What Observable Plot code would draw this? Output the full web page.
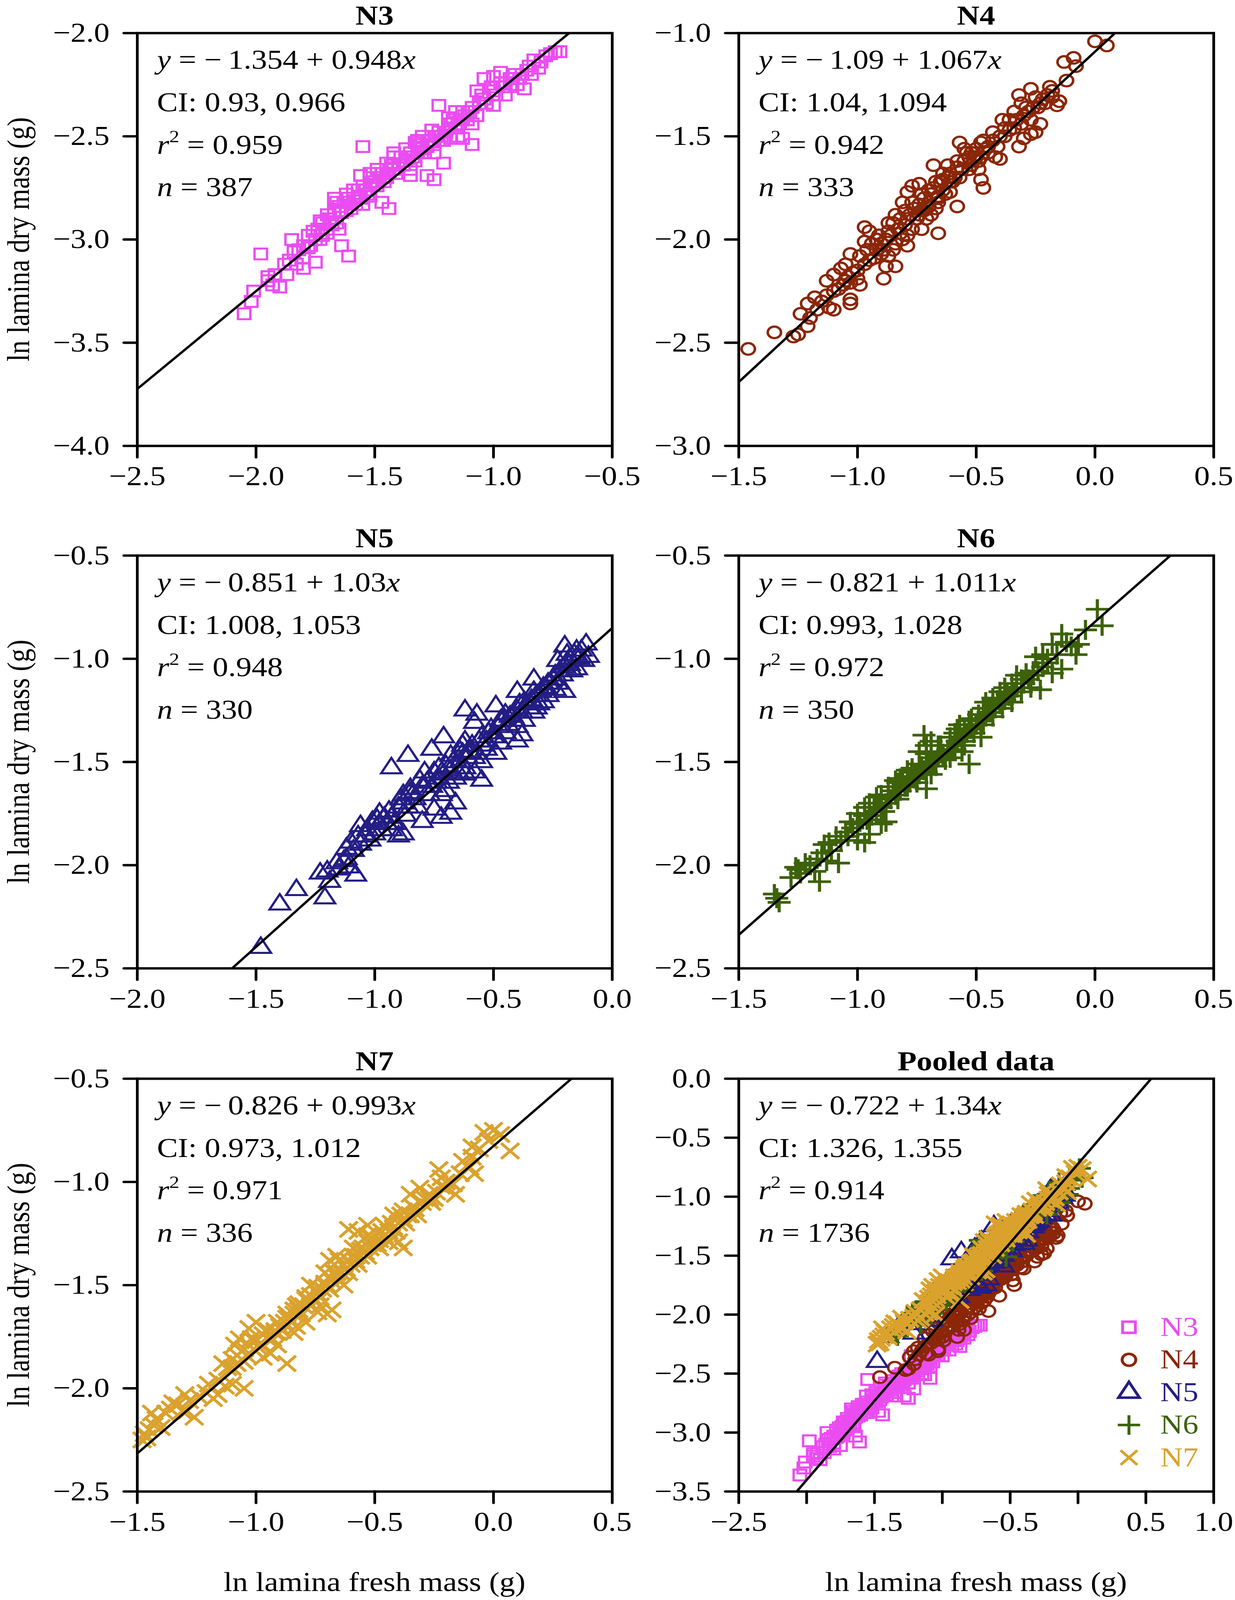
<!DOCTYPE html>
<html><head><meta charset="utf-8">
<script src="https://cdn.jsdelivr.net/npm/d3@7"></script>
<script src="https://cdn.jsdelivr.net/npm/@observablehq/plot@0.6"></script>
<style>
html,body{margin:0;padding:0;background:#fff;overflow:hidden;}
#wrap{position:relative;width:3162px;height:4713px;overflow:hidden;background:#fff;transform-origin:0 0;}
#wrap svg{position:absolute;}
</style></head><body><div id="wrap"></div>
<script>
const FONT = '"Liberation Serif","Times New Roman",serif';
const groups = ["N3","N4","N5","N6","N7"];
const colors = ["#EB4CF2","#8B2608","#231D85","#3D620A","#DAA22D"];
const symbols = ["square","circle","triangle","plus","times"];
const titles = ["N3","N4","N5","N6","N7","Pooled data"];
const intercepts = [-1.354,-1.09,-0.851,-0.821,-0.826,-0.722];
const slopes = ["0.948","1.067","1.03","1.011","0.993","1.34"];
const ciLow = ["0.93","1.04","1.008","0.993","0.973","1.326"];
const ciHigh = ["0.966","1.094","1.053","1.028","1.012","1.355"];
const r2 = ["0.959","0.942","0.948","0.972","0.971","0.914"];
const ns = ["387","333","330","350","336","1736"];
const xDomains = [[-2.5,-0.5],[-1.5,0.5],[-2,0],[-1.5,0.5],[-1.5,0.5],[-2.5,1]];
const yDomains = [[-4,-2],[-3,-1],[-2.5,-0.5],[-2.5,-0.5],[-2.5,-0.5],[-3.5,0]];
const xTicks = [
  [-2.5,-2,-1.5,-1,-0.5],[-1.5,-1,-0.5,0,0.5],[-2,-1.5,-1,-0.5,0],
  [-1.5,-1,-0.5,0,0.5],[-1.5,-1,-0.5,0,0.5],[-2.5,-2,-1.5,-1,-0.5,0,0.5,1]];
const yTicks = [
  [-4,-3.5,-3,-2.5,-2],[-3,-2.5,-2,-1.5,-1],[-2.5,-2,-1.5,-1,-0.5],
  [-2.5,-2,-1.5,-1,-0.5],[-2.5,-2,-1.5,-1,-0.5],[-3.5,-3,-2.5,-2,-1.5,-1,-0.5,0]];
const pooledXTickLabels = [-2.5,-1.5,-0.5,0.5,1];
const xTitle = "ln lamina fresh mass (g)";
const yTitle = "ln lamina dry mass (g)";

const n3 = [
[-2.05,-3.36],[-2.02,-3.30],[-2.01,-3.25],[-1.98,-3.07],[-1.95,-3.18],[-1.93,-3.22],[-1.90,-3.23],[-1.87,-3.17],[-1.83,-3.12],[-1.85,-3.00],
[-1.80,-3.09],[-1.77,-3.03],[-1.73,-3.00],[-1.70,-2.97],[-1.80,-3.14],[-1.75,-3.11],[-1.73,-2.91],[-1.70,-2.88],[-1.66,-2.82],[-1.67,-2.80],
[-1.61,-2.82],[-1.57,-2.79],[-1.64,-3.03],[-1.61,-3.08],[-1.59,-2.76],[-1.56,-2.69],[-1.52,-2.68],[-1.49,-2.66],[-1.45,-2.63],[-1.55,-2.55],
[-1.52,-2.79],[-1.47,-2.82],[-1.44,-2.85],[-1.42,-2.60],[-1.37,-2.56],[-1.33,-2.53],[-1.30,-2.50],[-1.26,-2.47],[-1.35,-2.69],[-1.28,-2.69],
[-1.25,-2.71],[-1.21,-2.63],[-1.23,-2.35],[-1.19,-2.41],[-1.16,-2.38],[-1.18,-2.51],[-1.13,-2.51],[-1.09,-2.54],[-1.13,-2.42],[-1.09,-2.44],
[-1.07,-2.28],[-1.04,-2.22],[-1.00,-2.21],[-0.97,-2.19],[-0.93,-2.22],[-1.00,-2.35],[-0.95,-2.30],[-0.90,-2.25],[-0.87,-2.27],[-0.85,-2.16],
[-0.83,-2.13],[-0.78,-2.11],[-0.74,-2.09],[-0.72,-2.09],[-0.81,-2.17],
[-1.78,-3.04],[-1.75,-3.00],[-1.72,-2.98],[-1.70,-2.95],[-1.68,-2.93],[-1.66,-2.92],[-1.64,-2.87],[-1.62,-2.86],[-1.60,-2.85],[-1.58,-2.83],
[-1.56,-2.80],[-1.54,-2.76],[-1.52,-2.74],[-1.50,-2.72],[-1.48,-2.70],[-1.46,-2.72],[-1.44,-2.68],[-1.42,-2.66],[-1.40,-2.64],[-1.38,-2.64],
[-1.36,-2.60],[-1.34,-2.60],[-1.32,-2.58],[-1.30,-2.56],[-1.28,-2.55],[-1.26,-2.52],[-1.24,-2.50],[-1.22,-2.50],[-1.20,-2.48],[-1.18,-2.44],
[-1.16,-2.46],[-1.14,-2.42],[-1.12,-2.40],[-1.10,-2.38],[-1.06,-2.34],[-1.04,-2.32],[-1.00,-2.28],[-0.96,-2.26],[-0.92,-2.22],[-0.88,-2.20],
[-1.65,-2.95],[-1.55,-2.83],[-1.45,-2.66],[-1.35,-2.66],[-1.25,-2.58],[-1.15,-2.50],[-1.62,-2.78],[-1.52,-2.70],[-1.42,-2.58],[-1.32,-2.52],
[-1.95,-3.20],[-1.92,-3.17],[-1.88,-3.12],[-1.86,-3.10],[-1.84,-3.06],[-1.82,-3.05],[-1.80,-3.03],[-1.78,-2.98],[-1.76,-2.96],[-1.74,-2.95],
[-1.72,-2.92],[-1.69,-2.90],[-1.67,-2.86],[-1.65,-2.84],[-1.63,-2.82],[-1.61,-2.80],[-1.59,-2.80],[-1.57,-2.76],[-1.55,-2.74],[-1.53,-2.78],
[-1.51,-2.72],[-1.49,-2.74],[-1.47,-2.68],[-1.45,-2.70],[-1.43,-2.64],[-1.41,-2.68],[-1.39,-2.60],[-1.37,-2.62],[-1.35,-2.58],[-1.33,-2.62],
[-1.31,-2.54],[-1.29,-2.58],[-1.27,-2.52],[-1.25,-2.54],[-1.23,-2.48],[-1.21,-2.52],[-1.19,-2.46],[-1.17,-2.42],[-1.15,-2.44],[-1.13,-2.38],
[-1.11,-2.42],[-1.09,-2.36],[-1.07,-2.40],[-1.05,-2.30],[-1.03,-2.34],[-1.01,-2.26],[-0.99,-2.30],[-0.97,-2.24],[-0.95,-2.24],[-0.93,-2.26],
[-0.91,-2.20],[-0.89,-2.22],[-0.86,-2.18],[-0.84,-2.20],[-0.80,-2.14],[-0.76,-2.10]];

const n4 = [
[-1.46,-2.53],[-1.35,-2.45],[-1.27,-2.47],[-1.25,-2.46],[-1.21,-2.42],[-1.24,-2.36],[-1.21,-2.31],[-1.18,-2.28],[-1.13,-2.20],[-1.10,-2.17],
[-1.12,-2.33],[-1.10,-2.34],[-1.03,-2.31],[-1.03,-2.29],[-1.03,-2.21],[-1.07,-2.14],[-1.03,-2.07],[-1.05,-2.12],[-0.99,-2.22],[-1.00,-2.19],
[-0.97,-1.94],[-0.95,-1.96],[-0.97,-2.01],[-0.92,-2.00],[-0.90,-2.07],[-0.88,-2.13],[-0.89,-2.19],[-0.84,-2.13],[-0.87,-1.92],[-0.84,-1.88],
[-0.81,-1.82],[-0.79,-1.77],[-0.77,-1.74],[-0.74,-1.73],[-0.81,-2.00],[-0.79,-2.03],[-0.74,-1.83],[-0.70,-1.82],[-0.68,-1.64],[-0.66,-1.79],
[-0.66,-1.97],[-0.62,-1.64],[-0.61,-1.68],[-0.58,-1.84],[-0.61,-1.77],[-0.64,-1.71],[-0.57,-1.53],[-0.55,-1.56],[-0.53,-1.60],[-0.51,-1.61],
[-0.49,-1.66],[-0.48,-1.53],[-0.46,-1.56],[-0.47,-1.75],[-0.48,-1.71],[-0.42,-1.60],[-0.40,-1.61],[-0.39,-1.42],[-0.38,-1.46],[-0.34,-1.38],
[-0.32,-1.30],[-0.31,-1.34],[-0.32,-1.55],[-0.27,-1.49],[-0.25,-1.48],[-0.30,-1.51],[-0.27,-1.27],[-0.25,-1.31],[-0.23,-1.34],[-0.23,-1.44],
[-0.20,-1.30],[-0.18,-1.31],[-0.15,-1.33],[-0.16,-1.35],[-0.12,-1.23],[-0.13,-1.14],[-0.09,-1.12],[-0.08,-1.16],[0.00,-1.04],[0.05,-1.06],
[-0.95,-2.10],[-0.92,-2.05],[-0.90,-2.02],[-0.88,-2.00],[-0.86,-1.98],[-0.85,-2.05],[-0.83,-1.95],[-0.82,-1.90],[-0.80,-1.93],[-0.78,-1.88],
[-0.77,-1.95],[-0.76,-1.85],[-0.74,-1.88],[-0.72,-1.80],[-0.71,-1.90],[-0.70,-1.84],[-0.69,-1.78],[-0.68,-1.75],[-0.66,-1.80],[-0.65,-1.72],
[-0.64,-1.76],[-0.62,-1.70],[-0.60,-1.72],[-0.58,-1.65],[-0.57,-1.70],[-0.55,-1.62],[-0.53,-1.66],[-0.52,-1.58],[-0.50,-1.60],[-0.48,-1.60],
[-0.45,-1.55],[-0.43,-1.52],[-0.40,-1.50],[-0.36,-1.47],[-0.33,-1.42],[-0.30,-1.40],[-0.28,-1.38],[-0.26,-1.36],[-0.22,-1.32],[-0.18,-1.28],
[-1.05,-2.20],[-1.00,-2.15],[-0.97,-2.12],[-1.10,-2.25],[-0.87,-2.08],[-0.79,-1.98],[-0.73,-1.95],[-0.67,-1.85],
[-1.20,-2.38],[-1.17,-2.34],[-1.15,-2.30],[-1.13,-2.27],[-1.08,-2.24],[-1.06,-2.22],[-1.04,-2.18],[-1.02,-2.16],[-0.99,-2.08],[-0.96,-2.05],
[-0.94,-2.02],[-0.93,-2.09],[-0.91,-1.98],[-0.89,-2.05],[-0.87,-1.96],[-0.85,-1.92],[-0.84,-2.02],[-0.82,-1.97],[-0.80,-1.86],[-0.79,-1.90],
[-0.77,-1.82],[-0.75,-1.90],[-0.73,-1.78],[-0.72,-1.86],[-0.70,-1.76],[-0.69,-1.88],[-0.67,-1.72],[-0.66,-1.82],[-0.64,-1.68],[-0.63,-1.78],
[-0.61,-1.72],[-0.59,-1.70],[-0.58,-1.62],[-0.56,-1.66],[-0.54,-1.58],[-0.52,-1.64],[-0.50,-1.56],[-0.49,-1.62],[-0.47,-1.52],[-0.45,-1.58],
[-0.43,-1.48],[-0.41,-1.55],[-0.38,-1.50],[-0.36,-1.42],[-0.34,-1.46],[-0.31,-1.44],[-0.29,-1.36],[-0.27,-1.42],[-0.24,-1.36],[-0.21,-1.34],
[-0.19,-1.26]];

const n5 = [
[-1.48,-2.40],[-1.40,-2.19],[-1.33,-2.12],[-1.23,-2.04],[-1.20,-2.03],[-1.19,-2.08],[-1.21,-2.16],[-1.16,-1.99],[-1.12,-1.97],[-1.08,-2.05],
[-1.11,-2.01],[-1.12,-1.92],[-1.10,-1.89],[-1.06,-1.81],[-1.04,-1.86],[-1.07,-1.86],[-1.01,-1.79],[-0.98,-1.75],[-0.96,-1.77],[-0.93,-1.83],
[-0.90,-1.86],[-0.88,-1.85],[-0.93,-1.53],[-0.86,-1.47],[-0.88,-1.66],[-0.85,-1.63],[-0.81,-1.59],[-0.79,-1.55],[-0.80,-1.79],[-0.75,-1.73],
[-0.72,-1.77],[-0.68,-1.75],[-0.66,-1.70],[-0.76,-1.44],[-0.71,-1.38],[-0.73,-1.53],[-0.68,-1.47],[-0.64,-1.45],[-0.62,-1.40],[-0.62,-1.25],
[-0.58,-1.31],[-0.57,-1.27],[-0.62,-1.53],[-0.58,-1.55],[-0.55,-1.59],[-0.53,-1.40],[-0.49,-1.23],[-0.45,-1.27],[-0.49,-1.46],[-0.40,-1.16],
[-0.37,-1.21],[-0.38,-1.37],[-0.40,-1.40],[-0.33,-1.10],[-0.32,-1.24],[-0.29,-1.21],[-0.27,-1.12],[-0.24,-1.15],[-0.23,-1.01],[-0.20,-0.94],
[-0.19,-0.98],[-0.18,-1.03],[-0.15,-1.05],[-0.11,-0.93],[-0.10,-0.99],[-0.20,-1.16],[-0.12,-1.01],[-0.15,-0.96],
[-1.00,-1.85],[-0.98,-1.80],[-0.95,-1.80],[-0.93,-1.77],[-0.90,-1.72],[-0.88,-1.70],[-0.86,-1.72],[-0.85,-1.65],[-0.83,-1.68],[-0.80,-1.62],
[-0.78,-1.60],[-0.77,-1.66],[-0.75,-1.55],[-0.73,-1.58],[-0.70,-1.52],[-0.69,-1.60],[-0.67,-1.50],[-0.65,-1.55],[-0.63,-1.46],[-0.60,-1.45],
[-0.58,-1.48],[-0.56,-1.40],[-0.54,-1.42],[-0.52,-1.36],[-0.50,-1.38],[-0.48,-1.33],[-0.46,-1.30],[-0.44,-1.32],[-0.42,-1.28],[-0.40,-1.25],
[-0.38,-1.26],[-0.36,-1.22],[-0.34,-1.20],[-0.32,-1.18],[-0.30,-1.16],[-0.28,-1.14],[-0.26,-1.12],[-0.24,-1.08],[-0.22,-1.06],[-0.20,-1.04],
[-0.18,-1.00],[-0.16,-0.98],[-0.62,-1.56],[-0.55,-1.50],[-0.47,-1.41],[-0.40,-1.33],[-0.33,-1.26],[-0.72,-1.66],
[-1.15,-2.02],[-1.13,-1.98],[-1.09,-1.93],[-1.06,-1.90],[-1.03,-1.83],[-1.02,-1.88],[-0.99,-1.78],[-0.97,-1.83],[-0.94,-1.74],[-0.92,-1.80],
[-0.89,-1.68],[-0.87,-1.76],[-0.84,-1.66],[-0.82,-1.72],[-0.79,-1.62],[-0.76,-1.62],[-0.74,-1.60],[-0.71,-1.56],[-0.70,-1.64],[-0.68,-1.54],
[-0.66,-1.58],[-0.64,-1.50],[-0.63,-1.42],[-0.61,-1.48],[-0.59,-1.42],[-0.57,-1.46],[-0.55,-1.38],[-0.53,-1.44],[-0.51,-1.34],[-0.49,-1.38],
[-0.47,-1.30],[-0.45,-1.36],[-0.43,-1.28],[-0.41,-1.30],[-0.39,-1.22],[-0.37,-1.30],[-0.35,-1.24],[-0.33,-1.16],[-0.31,-1.22],[-0.29,-1.14],
[-0.27,-1.18],[-0.25,-1.10],[-0.23,-1.12],[-0.21,-1.08],[-0.19,-1.02],[-0.17,-1.06],[-0.14,-1.00],[-0.13,-0.96]];

const n6 = [
[-1.34,-2.16],[-1.35,-2.14],[-1.33,-2.18],[-1.26,-2.01],[-1.22,-1.99],[-1.24,-2.04],[-1.18,-2.03],[-1.16,-2.08],[-1.13,-1.98],[-1.08,-1.99],
[-1.14,-1.90],[-1.12,-1.89],[-1.09,-1.86],[-1.05,-1.84],[-1.00,-1.88],[-0.97,-1.89],[-0.95,-1.85],[-1.03,-1.79],[-1.00,-1.75],[-0.97,-1.72],
[-0.95,-1.70],[-0.92,-1.67],[-0.90,-1.80],[-0.88,-1.79],[-0.90,-1.66],[-0.87,-1.62],[-0.84,-1.59],[-0.82,-1.58],[-0.79,-1.54],[-0.77,-1.53],
[-0.74,-1.51],[-0.71,-1.63],[-0.74,-1.45],[-0.71,-1.42],[-0.69,-1.40],[-0.72,-1.37],[-0.66,-1.42],[-0.64,-1.47],[-0.61,-1.38],[-0.58,-1.34],
[-0.57,-1.32],[-0.55,-1.34],[-0.53,-1.51],[-0.56,-1.45],[-0.52,-1.29],[-0.49,-1.27],[-0.47,-1.24],[-0.48,-1.38],[-0.46,-1.21],[-0.43,-1.19],
[-0.40,-1.16],[-0.38,-1.14],[-0.35,-1.12],[-0.39,-1.24],[-0.35,-1.21],[-0.31,-1.16],[-0.27,-1.14],[-0.23,-1.15],[-0.33,-1.08],[-0.29,-1.07],
[-0.26,-1.06],[-0.25,-0.99],[-0.22,-0.98],[-0.20,-1.02],[-0.18,-1.07],[-0.14,-1.05],[-0.18,-0.93],[-0.14,-0.88],[-0.10,-0.94],[-0.08,-0.98],
[-0.07,-0.93],[-0.04,-0.86],[0.01,-0.76],[0.03,-0.84],
[-1.00,-1.80],[-0.96,-1.78],[-0.94,-1.76],[-0.92,-1.74],[-0.90,-1.72],[-0.88,-1.70],[-0.86,-1.68],[-0.84,-1.66],[-0.82,-1.64],[-0.80,-1.62],
[-0.78,-1.60],[-0.76,-1.58],[-0.74,-1.56],[-0.72,-1.54],[-0.70,-1.52],[-0.68,-1.50],[-0.66,-1.47],[-0.64,-1.46],[-0.62,-1.44],[-0.60,-1.42],
[-0.58,-1.40],[-0.56,-1.38],[-0.54,-1.36],[-0.52,-1.34],[-0.50,-1.32],[-0.48,-1.30],[-0.46,-1.28],[-0.44,-1.26],[-0.42,-1.24],[-0.40,-1.22],
[-0.38,-1.20],[-0.36,-1.18],[-0.34,-1.16],[-0.30,-1.12],[-0.26,-1.08],[-0.22,-1.04],[-0.71,-1.46],[-0.65,-1.42],[-0.59,-1.36],[-0.53,-1.30],
[-0.47,-1.24],[-0.77,-1.55],[-0.83,-1.60],[-0.69,-1.56],[-0.61,-1.48],[-0.55,-1.42],
[-1.28,-2.06],[-1.25,-2.02],[-1.20,-2.00],[-1.17,-1.97],[-1.15,-1.94],[-1.11,-1.93],[-1.07,-1.88],[-1.04,-1.86],[-1.02,-1.82],[-0.99,-1.79],
[-0.97,-1.76],[-0.95,-1.78],[-0.93,-1.72],[-0.91,-1.70],[-0.89,-1.74],[-0.87,-1.67],[-0.85,-1.64],[-0.83,-1.68],[-0.81,-1.60],[-0.79,-1.62],
[-0.77,-1.57],[-0.75,-1.60],[-0.73,-1.52],[-0.71,-1.55],[-0.69,-1.48],[-0.67,-1.52],[-0.65,-1.45],[-0.63,-1.49],[-0.61,-1.42],[-0.59,-1.44],
[-0.57,-1.38],[-0.55,-1.40],[-0.53,-1.34],[-0.51,-1.36],[-0.49,-1.30],[-0.47,-1.32],[-0.45,-1.26],[-0.43,-1.28],[-0.41,-1.20],[-0.39,-1.22],
[-0.37,-1.17],[-0.33,-1.14],[-0.31,-1.10],[-0.28,-1.10],[-0.24,-1.06],[-0.20,-1.00],[-0.16,-0.98],[-0.12,-0.92]];

const n7 = [
[-1.48,-2.25],[-1.46,-2.24],[-1.47,-2.22],[-1.44,-2.12],[-1.42,-2.15],[-1.40,-2.19],[-1.43,-2.18],[-1.35,-2.07],[-1.33,-2.08],[-1.30,-2.03],
[-1.29,-2.11],[-1.26,-2.14],[-1.31,-2.11],[-1.21,-2.02],[-1.18,-2.05],[-1.16,-2.03],[-1.13,-1.99],[-1.10,-1.98],[-1.05,-2.00],[-1.14,-1.88],
[-1.10,-1.86],[-1.08,-1.84],[-1.05,-1.81],[-1.03,-1.79],[-1.00,-1.77],[-1.09,-1.79],[-1.07,-1.76],[-1.03,-1.71],[-1.00,-1.68],[-0.96,-1.72],
[-0.97,-1.85],[-0.94,-1.83],[-0.87,-1.88],[-0.91,-1.79],[-0.92,-1.73],[-0.87,-1.64],[-0.84,-1.62],[-0.82,-1.59],[-0.79,-1.57],[-0.77,-1.55],
[-0.84,-1.73],[-0.79,-1.68],[-0.74,-1.63],[-0.70,-1.64],[-0.68,-1.62],[-0.74,-1.51],[-0.71,-1.49],[-0.69,-1.46],[-0.66,-1.44],[-0.69,-1.38],
[-0.66,-1.36],[-0.61,-1.38],[-0.58,-1.36],[-0.56,-1.33],[-0.53,-1.29],[-0.51,-1.27],[-0.61,-1.23],[-0.57,-1.24],[-0.53,-1.21],[-0.48,-1.32],
[-0.44,-1.29],[-0.40,-1.29],[-0.38,-1.32],[-0.46,-1.21],[-0.42,-1.16],[-0.38,-1.14],[-0.35,-1.16],[-0.35,-1.06],[-0.31,-1.03],[-0.27,-1.06],
[-0.25,-1.08],[-0.23,-0.94],[-0.22,-0.98],[-0.20,-1.03],[-0.16,-1.06],[-0.17,-1.01],[-0.13,-0.90],[-0.10,-0.93],[-0.09,-0.88],[-0.08,-0.96],
[-0.09,-0.83],[-0.04,-0.76],[0.00,-0.75],[0.03,-0.77],[0.07,-0.85],
[-1.10,-1.90],[-1.05,-1.87],[-1.00,-1.82],[-0.98,-1.78],[-0.95,-1.76],[-0.92,-1.72],[-0.90,-1.70],[-0.88,-1.68],[-0.86,-1.66],[-0.84,-1.64],
[-0.82,-1.62],[-0.80,-1.60],[-0.78,-1.58],[-0.76,-1.56],[-0.74,-1.54],[-0.72,-1.52],[-0.70,-1.50],[-0.68,-1.48],[-0.66,-1.46],[-0.64,-1.44],
[-0.62,-1.42],[-0.60,-1.40],[-0.58,-1.38],[-0.56,-1.36],[-0.54,-1.34],[-0.52,-1.32],[-0.50,-1.30],[-0.48,-1.28],[-0.46,-1.26],[-0.44,-1.24],
[-0.42,-1.22],[-0.40,-1.20],[-0.38,-1.18],[-0.36,-1.16],[-0.33,-1.13],[-0.30,-1.10],[-0.27,-1.08],[-0.24,-1.05],[-0.20,-1.00],[-0.77,-1.50],
[-0.71,-1.44],[-0.65,-1.38],[-0.59,-1.32],[-0.53,-1.26],[-0.83,-1.70],[-0.73,-1.60],[-0.63,-1.50],
[-1.45,-2.20],[-1.38,-2.12],[-1.36,-2.10],[-1.28,-2.06],[-1.24,-2.04],[-1.20,-1.98],[-1.16,-1.96],[-1.12,-1.90],[-1.08,-1.88],[-1.06,-1.82],
[-1.04,-1.84],[-1.02,-1.76],[-0.99,-1.80],[-0.97,-1.74],[-0.95,-1.72],[-0.93,-1.76],[-0.91,-1.68],[-0.89,-1.72],[-0.87,-1.66],[-0.85,-1.68],
[-0.83,-1.60],[-0.81,-1.64],[-0.79,-1.56],[-0.77,-1.60],[-0.75,-1.52],[-0.73,-1.56],[-0.71,-1.50],[-0.69,-1.52],[-0.67,-1.44],[-0.65,-1.48],
[-0.63,-1.40],[-0.61,-1.44],[-0.59,-1.36],[-0.57,-1.40],[-0.55,-1.32],[-0.53,-1.36],[-0.51,-1.30],[-0.49,-1.30],[-0.47,-1.24],[-0.45,-1.28],
[-0.43,-1.20],[-0.41,-1.24],[-0.39,-1.16],[-0.37,-1.20],[-0.34,-1.12],[-0.32,-1.16],[-0.29,-1.08],[-0.26,-1.10],[-0.22,-1.02],[-0.18,-1.00],
[-0.14,-0.96],[-0.11,-0.92],[-0.06,-0.84],[-0.02,-0.80]];

const series = [n3, n4, n5, n6, n7];

// layout (pixels)
const colLeft = [351, 1891], rowTop = [97, 1636, 3177], BOX = 1216;
const ML = 240, MR = 90, MT = 20, MB = 140;
const symR = {square: 18, circle: 17, triangle: 19.5, plus: 19, times: 21};
const symW = {square: 6, circle: 6.5, triangle: 6, plus: 8, times: 8};

const wrap = document.getElementById("wrap");
const fmt = d => (d < 0 ? "\u2212" : "") + Math.abs(d).toFixed(1);
const pooledSet = new Set(pooledXTickLabels);

for (let i = 0; i < 6; i++) {
  const col = i % 2, row = Math.floor(i / 2);
  const [x0, x1] = xDomains[i];
  const fit = [x0, x1].map(x => ({x, y: intercepts[i] + (+slopes[i]) * x}));
  const idx = i < 5 ? [i] : [0, 1, 2, 3, 4];
  const marks = [];
  for (const g of idx) {
    const s = symbols[g];
    marks.push(Plot.dot(series[g], {x: d => d[0], y: d => d[1], symbol: s, r: symR[s],
      stroke: colors[g], strokeWidth: symW[s], fill: "none"}));
  }
  marks.push(Plot.line(fit, {x: "x", y: "y", stroke: "black", strokeWidth: 6.5, clip: true}));
  marks.push(Plot.frame({stroke: "black", strokeWidth: 7}));
  marks.push(Plot.axisY({ticks: yTicks[i], tickFormat: fmt, tickSize: 34, tickPadding: 37,
    strokeWidth: 7, strokeLinecap: "round", fontSize: 80, label: null}));
  marks.push(Plot.axisX({ticks: xTicks[i],
    tickFormat: i === 5 ? (d => pooledSet.has(d) ? fmt(d) : "") : fmt,
    tickSize: 34, tickPadding: 25, strokeWidth: 7, strokeLinecap: "round", fontSize: 80, label: null}));
  const svg = Plot.plot({
    width: BOX + ML + MR, height: BOX + MT + MB,
    marginLeft: ML, marginRight: MR, marginTop: MT, marginBottom: MB,
    x: {domain: xDomains[i]}, y: {domain: yDomains[i]},
    style: {fontFamily: FONT, fontSize: "80px", background: "transparent", overflow: "visible", color: "black", maxWidth: "none"},
    marks
  });
  svg.style.left = (colLeft[col] - ML) + "px";
  svg.style.top = (rowTop[row] - MT) + "px";
  wrap.appendChild(svg);
}

// legend (pooled panel)
const step = 96.5;
const legMarks = [];
groups.forEach((g, k) => {
  const s = symbols[k];
  legMarks.push(Plot.dot([g], {y: d => d, frameAnchor: "left", dx: 40, symbol: s,
    r: s === "circle" ? 17.5 : s === "triangle" ? 20 : s === "times" ? 19.5 : 18.5,
    stroke: colors[k], strokeWidth: 7.5, fill: "none"}));
  legMarks.push(Plot.text([g], {y: d => d, frameAnchor: "left", dx: 120, text: d => d,
    fill: colors[k], textAnchor: "start", fontSize: 80}));
});
const leg = Plot.plot({
  width: 300, height: step * groups.length, margin: 0,
  y: {type: "band", domain: groups, padding: 0, axis: null},
  style: {fontFamily: FONT, fontSize: "80px", background: "transparent", overflow: "visible", maxWidth: "none"},
  marks: legMarks
});
leg.style.left = "2850px";
leg.style.top = (3908 - step / 2) + "px";
wrap.appendChild(leg);

// text overlay
const ov = d3.select(wrap).append("svg")
  .attr("width", 3162).attr("height", 4713)
  .style("left", "0px").style("top", "0px")
  .style("font-family", FONT).style("font-size", "80px").style("white-space", "pre");

for (let i = 0; i < 6; i++) {
  const col = i % 2, row = Math.floor(i / 2);
  const L = colLeft[col], T = rowTop[row];
  ov.append("text").attr("x", L + BOX / 2).attr("y", T - 24).attr("text-anchor", "middle")
    .attr("font-weight", "bold").text(titles[i]);
  const tx = L + 51, ty = T + 106, ls = 125;
  const t1 = ov.append("text").attr("x", tx).attr("y", ty);
  t1.append("tspan").attr("font-style", "italic").text("y");
  t1.append("tspan").text(" = \u2212\u2009" + Math.abs(intercepts[i]) + " + " + slopes[i]);
  t1.append("tspan").attr("font-style", "italic").text("x");
  ov.append("text").attr("x", tx).attr("y", ty + ls).text("CI: " + ciLow[i] + ", " + ciHigh[i]);
  const t3 = ov.append("text").attr("x", tx).attr("y", ty + 2 * ls);
  t3.append("tspan").attr("font-style", "italic").text("r");
  t3.append("tspan").attr("font-size", 52).attr("dy", -34).text("2");
  t3.append("tspan").attr("dy", 34).text(" = " + r2[i]);
  const t4 = ov.append("text").attr("x", tx).attr("y", ty + 3 * ls);
  t4.append("tspan").attr("font-style", "italic").text("n");
  t4.append("tspan").text(" = " + ns[i]);
}
for (let row = 0; row < 3; row++) {
  const cy = rowTop[row] + BOX / 2;
  ov.append("text").attr("transform", `translate(74,${cy}) rotate(-90)`)
    .attr("text-anchor", "middle").text(yTitle);
}
for (let col = 0; col < 2; col++) {
  ov.append("text").attr("x", colLeft[col] + BOX / 2).attr("y", 4686)
    .attr("text-anchor", "middle").text(xTitle);
}

// fit the whole figure into the visible viewport if it is smaller than the figure
function fitView() {
  const vw = document.documentElement.clientWidth || window.innerWidth;
  const vh = window.innerHeight || document.documentElement.clientHeight;
  const sx = Math.min(1, vw / 3162), sy = Math.min(1, vh / 4713);
  wrap.style.transform = (sx < 1 || sy < 1) ? `scale(${sx},${sy})` : "";
}
fitView();
window.addEventListener("resize", fitView);
</script></body></html>
